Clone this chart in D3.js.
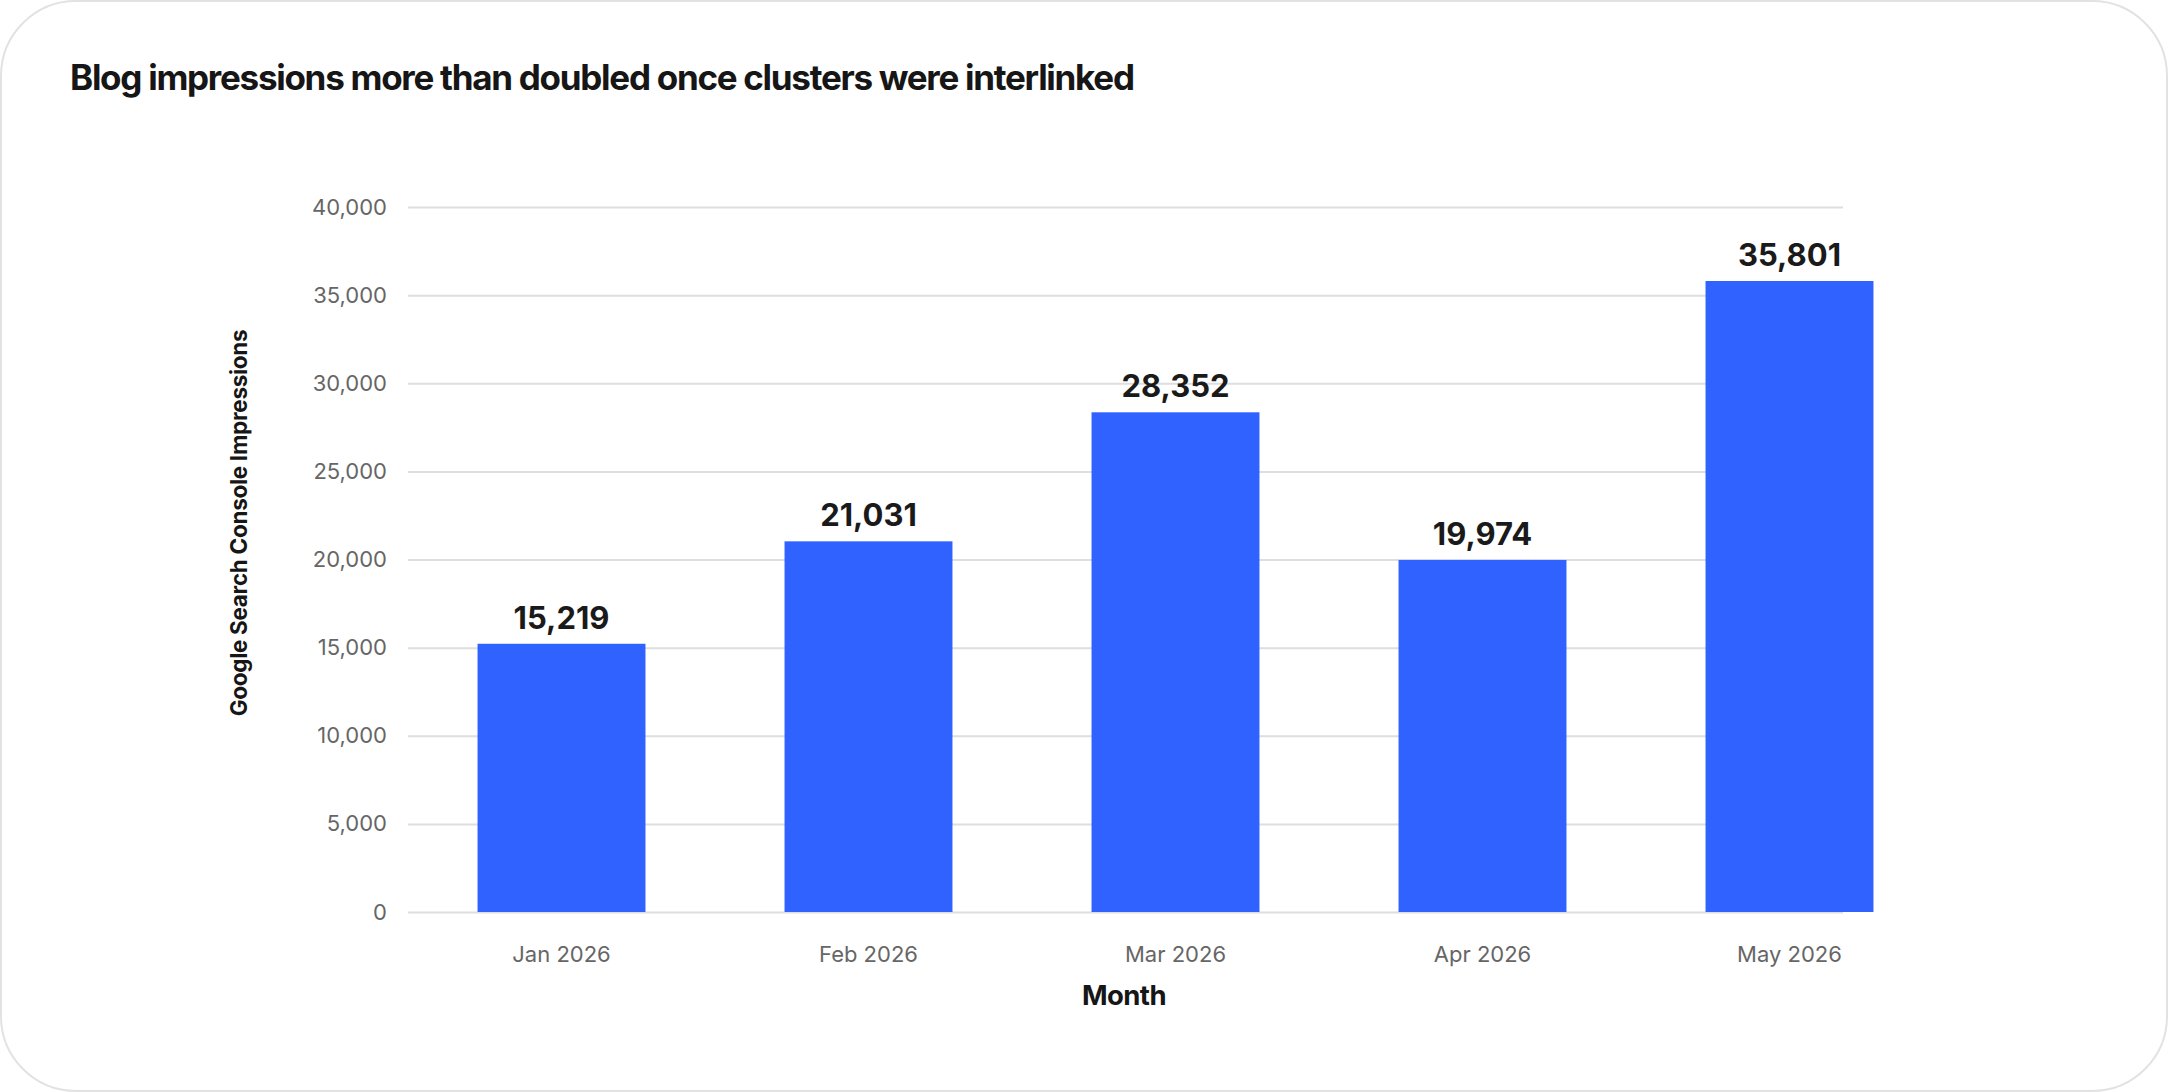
<!DOCTYPE html>
<html>
<head>
<meta charset="utf-8">
<script src="https://cdn.jsdelivr.net/npm/d3@7"></script>
<style>
  html, body { margin: 0; padding: 0; background: #fff; }
  svg { display: block; font-family: Inter, "Noto Sans", sans-serif; }
</style>
</head>
<body>
<div id="graph"></div>
<script>
// data
var months = ["Jan 2026", "Feb 2026", "Mar 2026", "Apr 2026", "May 2026"];
var impressions = [15219, 21031, 28352, 19974, 35801];
var yTicks = [0, 5000, 10000, 15000, 20000, 25000, 30000, 35000, 40000];

var chartTitle = "Blog impressions more than doubled once clusters were interlinked";
var yTitle = "Google Search Console Impressions";
var xTitle = "Month";

var width = 2168, height = 1092;
var barColor = "#2f62ff";

var svg = d3.select("#graph").append("svg")
    .attr("width", width)
    .attr("height", height);

// card outline
svg.append("rect")
    .attr("x", 1).attr("y", 1)
    .attr("width", width - 2).attr("height", height - 2)
    .attr("rx", 75).attr("ry", 75)
    .attr("fill", "#fff")
    .attr("stroke", "#e2e2e2")
    .attr("stroke-width", 2);

svg.append("text")
    .attr("x", 70)
    .attr("y", 90)
    .attr("font-size", 35)
    .attr("font-weight", 700)
    .attr("fill", "#161616")
    .attr("textLength", 1065)
    .attr("lengthAdjust", "spacing")
    .text(chartTitle);

var gridLeft = 408, gridRight = 1843;

var y = d3.scaleLinear()
    .domain([0, 40000])
    .range([912, 207]);

// the bands run a little past the grid on the right, like the original
var x = d3.scaleBand()
    .domain(months)
    .range([408, 1943])
    .paddingInner(0.453)
    .paddingOuter(0.2265);

var yAxis = d3.axisLeft(y)
    .tickValues(yTicks)
    .tickFormat(d3.format(","))
    .tickSize(-(gridRight - gridLeft))
    .tickPadding(21);

var gy = svg.append("g")
    .attr("transform", "translate(" + gridLeft + ",0)")
    .call(yAxis);
gy.select(".domain").remove();
gy.selectAll(".tick line")
    .attr("stroke", "#dedede")
    .attr("stroke-width", 2);
gy.selectAll(".tick text")
    .attr("font-size", 22)
    .attr("fill", "#666")
    .attr("font-family", "Inter, sans-serif");

var data = months.map(function (m, i) {
    return { key: m, value: impressions[i] };
});

svg.selectAll(".bar")
    .data(data)
    .enter().append("rect")
    .classed("bar", true)
    .attr("x", function (d) { return x(d.key); })
    .attr("y", function (d) { return y(d.value); })
    .attr("width", x.bandwidth())
    .attr("height", function (d) { return y(0) - y(d.value); })
    .attr("fill", barColor);

svg.selectAll(".bar-label")
    .data(data)
    .enter().append("text")
    .classed("bar-label", true)
    .attr("x", function (d) { return x(d.key) + x.bandwidth() / 2; })
    .attr("y", function (d) { return y(d.value) - 15; })
    .attr("text-anchor", "middle")
    .attr("font-size", 31)
    .attr("font-weight", 700)
    .attr("fill", "#1a1a1a")
    .text(function (d) { return d3.format(",")(d.value); });

var xAxis = d3.axisBottom(x)
    .tickSize(0)
    .tickPadding(0);

var gx = svg.append("g")
    .attr("transform", "translate(0,962)")
    .call(xAxis);
gx.select(".domain").remove();
gx.selectAll(".tick text")
    .attr("dy", 0)
    .attr("font-size", 22)
    .attr("fill", "#666")
    .attr("font-family", "Inter, sans-serif");

// axis titles
svg.append("text")
    .attr("transform", "translate(247,523) rotate(-90)")
    .attr("text-anchor", "middle")
    .attr("font-size", 22.5)
    .attr("font-weight", 700)
    .attr("letter-spacing", -0.3)
    .attr("fill", "#161616")
    .text(yTitle);

svg.append("text")
    .attr("x", 1124)
    .attr("y", 1005)
    .attr("text-anchor", "middle")
    .attr("font-size", 27.5)
    .attr("font-weight", 700)
    .attr("letter-spacing", -0.6)
    .attr("fill", "#161616")
    .text(xTitle);
</script>
</body>
</html>
